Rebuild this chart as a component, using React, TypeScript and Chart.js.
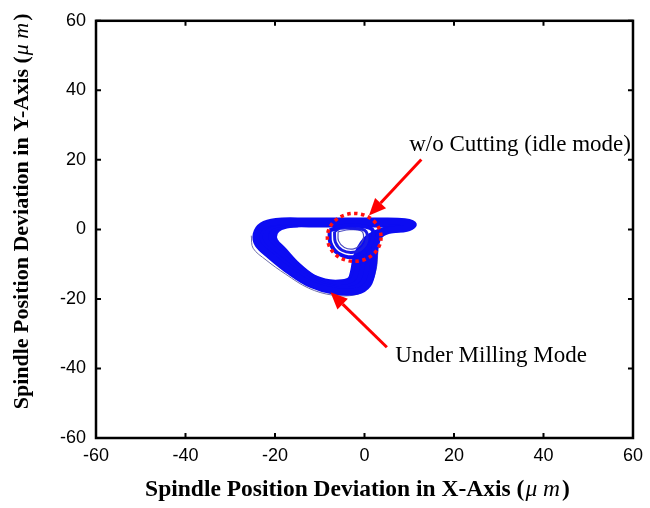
import React, { useEffect, useRef } from "react";
import { Chart, registerables } from "chart.js";
Chart.register(...registerables);

const xTicks = [-60, -40, -20, 0, 20, 40, 60];
const yTicks = [-60, -40, -20, 0, 20, 40, 60];

// Milling-mode orbit traces across the band (um)
const outerX = [-3.9, 3.9, 9.0, 10.9, 9.4, 5.4, 3.2, 2.3, 1.9, 0.8, -1.7, -6.7, -12.0, -16.7, -20.9, -23.8, -24.2, -22.9, -19.8, -12.7, -3.9];
const outerY = [2.4, 2.4, 2.2, 1.4, 0.3, -0.3, -2.0, -6.0, -11.2, -15.8, -17.8, -17.8, -15.8, -12.1, -7.8, -4.3, -1.4, 1.1, 2.3, 2.4, 2.4];
const band1X = [-14.9, -21.1, -23.3, -23.1, -20.2, -16.2, -11.8, -7.0, -2.5, -0.3, 0.8, 1.2, 2.3];
const band1Y = [2.3, 1.7, -0.9, -4.0, -7.5, -11.5, -15.2, -17.2, -17.2, -15.5, -11.2, -6.6, -2.6];
const midX = [-3.9, 3.9, 8.3, 9.8, 8.3, 4.5, 1.7, 0.3, -0.3, -1.2, -3.4, -7.2, -11.6, -15.8, -19.3, -22.0, -22.2, -20.9, -17.6, -11.6, -3.9];
const midY = [2.0, 2.0, 1.7, 1.1, 0.3, -0.3, -2.3, -6.6, -11.2, -14.9, -16.7, -16.7, -14.6, -10.9, -6.9, -3.7, -1.1, 0.9, 2.0, 2.0, 2.0];
const band2X = [-14.9, -19.6, -21.1, -20.9, -18.7, -15.4, -11.4, -7.4, -4.3, -2.3, -1.4, -0.8, 0.8];
const band2Y = [1.6, 0.9, -1.1, -3.7, -6.6, -10.3, -14.1, -15.8, -15.8, -14.4, -11.2, -7.2, -2.9];
const innerX = [-3.9, 3.9, 7.2, 7.8, 6.1, 2.8, 0.1, -1.9, -2.5, -3.2, -5.0, -7.8, -11.4, -14.9, -18.0, -20.0, -20.0, -18.7, -16.0, -10.5, -3.9];
const innerY = [1.4, 1.4, 1.0, 0.6, 0.0, -0.9, -3.2, -7.8, -11.8, -14.4, -15.2, -15.2, -13.8, -10.3, -6.0, -3.2, -0.9, 0.6, 1.4, 1.4, 1.4];
// stray thin traces outside the band
const strayX = [-25.3, -24.9, -22.0, -17.6, -12.5, -7.2, -2.0, 1.0, 2.6, 3.0];
const strayY = [-1.8, -5.4, -8.8, -12.9, -16.9, -18.9, -18.8, -16.5, -11.5, -6.0];

// Idle-mode (w/o cutting) small orbit
const idleOuterX = [-7.8, -7.6, -5.9, -2.5, 0.1, 1.7, 1.7, -1.7, -5.0, -7.8];
const idleOuterY = [-0.3, -4.0, -6.9, -8.0, -6.3, -3.2, 0.0, 1.1, 0.9, -0.3];
const idleMidX = [-6.7, -6.5, -5.0, -2.5, -0.3, 0.6, 0.1, -2.8, -5.4, -6.7];
const idleMidY = [-0.6, -3.7, -6.0, -6.6, -5.2, -2.6, -0.3, 0.3, 0.3, -0.6];
const idleInnerX = [-5.9, -5.8, -4.5, -2.4, -0.9, -0.2, -0.8, -3.4, -5.9];
const idleInnerY = [-0.7, -3.3, -5.2, -5.6, -4.4, -2.2, -0.4, -0.1, -0.7];

// Annotations (data units)
const circleCenter = [-2.3, -2.3];
const circleRadius = [6.0, 6.9];
const arrowIdleFrom = [12.7, 20.1];
const arrowIdleTo = [1.0, 4.0];
const arrowMillFrom = [5.0, -33.9];
const arrowMillTo = [-7.6, -18.1];
const labelIdleText = "w/o Cutting (idle mode)";
const labelIdleAt = [10.0, 22.5];
const labelMillText = "Under Milling Mode";
const labelMillAt = [6.9, -38.1];

const xTitleMain = "Spindle Position Deviation in X-Axis (";
const yTitleMain = "Spindle Position Deviation in Y-Axis (";
const titleUnit = "\u03bc m";
const titleClose = ")";

const pts = (xs: number[], ys: number[]) => xs.map((x, i) => ({ x, y: ys[i] }));

const SERIF = '"Liberation Serif", "Times New Roman", serif';
const SANS = '"Liberation Sans", Arial, sans-serif';

function drawArrow(ctx: CanvasRenderingContext2D, x0: number, y0: number, x1: number, y1: number) {
  const ang = Math.atan2(y1 - y0, x1 - x0);
  const headLen = 17, headHalf = 7.5;
  const bx = x1 - headLen * Math.cos(ang), by = y1 - headLen * Math.sin(ang);
  ctx.strokeStyle = "#ff0000";
  ctx.fillStyle = "#ff0000";
  ctx.lineWidth = 3;
  ctx.beginPath();
  ctx.moveTo(x0, y0);
  ctx.lineTo(bx, by);
  ctx.stroke();
  ctx.beginPath();
  ctx.moveTo(x1, y1);
  ctx.lineTo(bx + headHalf * Math.sin(ang), by - headHalf * Math.cos(ang));
  ctx.lineTo(bx - headHalf * Math.sin(ang), by + headHalf * Math.cos(ang));
  ctx.closePath();
  ctx.fill();
}

function drawTitle(ctx: CanvasRenderingContext2D, main: string, size: number, cx: number, cy: number) {
  const bold = `bold ${size}px ${SERIF}`;
  const ital = `italic ${size}px ${SERIF}`;
  ctx.font = bold;
  const w1 = ctx.measureText(main).width;
  const w3 = ctx.measureText(titleClose).width;
  ctx.font = ital;
  const w2 = ctx.measureText(titleUnit).width;
  const total = w1 + w2 + w3 + 3;
  const sx = cx - total / 2;
  ctx.font = bold; ctx.fillText(main, sx, cy);
  ctx.font = ital; ctx.fillText(titleUnit, sx + w1 + 1, cy);
  ctx.font = bold; ctx.fillText(titleClose, sx + w1 + w2 + 3, cy);
}

const overlay = {
  id: "overlay",
  afterDatasetsDraw(chart: any) {
    const { ctx, chartArea: a, scales } = chart;
    const xs = scales.x, ys = scales.y;
    ctx.save();
    // dotted circle
    const cx = xs.getPixelForValue(circleCenter[0]);
    const cy = ys.getPixelForValue(circleCenter[1]);
    const rx = Math.abs(xs.getPixelForValue(circleCenter[0] + circleRadius[0]) - cx);
    const ry = Math.abs(ys.getPixelForValue(circleCenter[1] + circleRadius[1]) - cy);
    ctx.strokeStyle = "#ff1010";
    ctx.lineWidth = 3.5;
    ctx.setLineDash([3.5, 3.5]);
    ctx.beginPath();
    ctx.ellipse(cx, cy, rx, ry, 0, 0, Math.PI * 2);
    ctx.stroke();
    ctx.setLineDash([]);
    // arrows
    drawArrow(ctx, xs.getPixelForValue(arrowIdleFrom[0]), ys.getPixelForValue(arrowIdleFrom[1]),
      xs.getPixelForValue(arrowIdleTo[0]), ys.getPixelForValue(arrowIdleTo[1]));
    drawArrow(ctx, xs.getPixelForValue(arrowMillFrom[0]), ys.getPixelForValue(arrowMillFrom[1]),
      xs.getPixelForValue(arrowMillTo[0]), ys.getPixelForValue(arrowMillTo[1]));
    // labels
    ctx.fillStyle = "#000";
    ctx.font = `23px ${SERIF}`;
    ctx.textAlign = "left";
    ctx.textBaseline = "alphabetic";
    ctx.fillText(labelIdleText, xs.getPixelForValue(labelIdleAt[0]), ys.getPixelForValue(labelIdleAt[1]));
    ctx.fillText(labelMillText, xs.getPixelForValue(labelMillAt[0]), ys.getPixelForValue(labelMillAt[1]));
    // frame
    ctx.strokeStyle = "#000";
    ctx.lineWidth = 2.5;
    ctx.strokeRect(a.left, a.top, a.right - a.left, a.bottom - a.top);
    // inward ticks
    ctx.lineWidth = 2;
    const tl = 5;
    ctx.beginPath();
    xTicks.forEach((v) => {
      const px = xs.getPixelForValue(v);
      ctx.moveTo(px, a.bottom); ctx.lineTo(px, a.bottom - tl);
      ctx.moveTo(px, a.top); ctx.lineTo(px, a.top + tl);
    });
    yTicks.forEach((v) => {
      const py = ys.getPixelForValue(v);
      ctx.moveTo(a.left, py); ctx.lineTo(a.left + tl, py);
      ctx.moveTo(a.right, py); ctx.lineTo(a.right - tl, py);
    });
    ctx.stroke();
    // axis titles
    ctx.textBaseline = "middle";
    ctx.textAlign = "left";
    drawTitle(ctx, xTitleMain, 23.5, (a.left + a.right) / 2 - 7, 490);
    ctx.save();
    ctx.translate(22, (a.top + a.bottom) / 2 - 18);
    ctx.rotate(-Math.PI / 2);
    drawTitle(ctx, yTitleMain, 22, 0, 0);
    ctx.restore();
    ctx.restore();
  },
};

export default function App() {
  const ref = useRef<HTMLCanvasElement>(null);
  useEffect(() => {
    if (!ref.current) return;
    const line = (xs: number[], ys: number[], color: string, width: number) => ({
      data: pts(xs, ys),
      showLine: true,
      pointRadius: 0,
      borderColor: color,
      borderWidth: width,
      tension: 0.35,
      fill: false,
    });
    const blue = "#0c0cf2";
    const chart = new Chart(ref.current, {
      type: "scatter",
      data: {
        datasets: [
          line(idleOuterX, idleOuterY, blue, 4),
          line(idleMidX, idleMidY, "#1a1ae6", 3),
          line(idleInnerX, idleInnerY, "#4a4ac0", 1.2),
          line(outerX, outerY, blue, 7),
          line(band1X, band1Y, blue, 7),
          line(midX, midY, blue, 7),
          line(band2X, band2Y, blue, 7),
          line(innerX, innerY, blue, 6),
          line(strayX, strayY, "#6e6ea8", 1),
        ],
      },
      options: {
        responsive: false,
        animation: false,
        layout: { padding: { left: 0, right: 11, top: 20, bottom: 0 } },
        plugins: { legend: { display: false }, tooltip: { enabled: false } },
        scales: {
          x: {
            type: "linear",
            min: -60,
            max: 60,
            afterBuildTicks: (s: any) => { s.ticks = xTicks.map((v) => ({ value: v })); },
            afterFit: (s: any) => { s.height = 70; },
            grid: { display: false, drawTicks: false, tickLength: 0 },
            border: { display: false },
            ticks: { padding: 7, color: "#000", font: { family: SANS, size: 18 } },
          },
          y: {
            type: "linear",
            min: -60,
            max: 60,
            afterBuildTicks: (s: any) => { s.ticks = yTicks.map((v) => ({ value: v })); },
            afterFit: (s: any) => { s.width = 96; },
            grid: { display: false, drawTicks: false, tickLength: 0 },
            border: { display: false },
            ticks: { padding: 10, color: "#000", font: { family: SANS, size: 18 } },
          },
        },
      },
      plugins: [overlay],
    });
    return () => chart.destroy();
  }, []);
  return (
    <div style={{ position: "fixed", left: 0, top: 0, width: 650, height: 508, background: "#fff" }}>
      <canvas ref={ref} width={650} height={508} />
    </div>
  );
}
